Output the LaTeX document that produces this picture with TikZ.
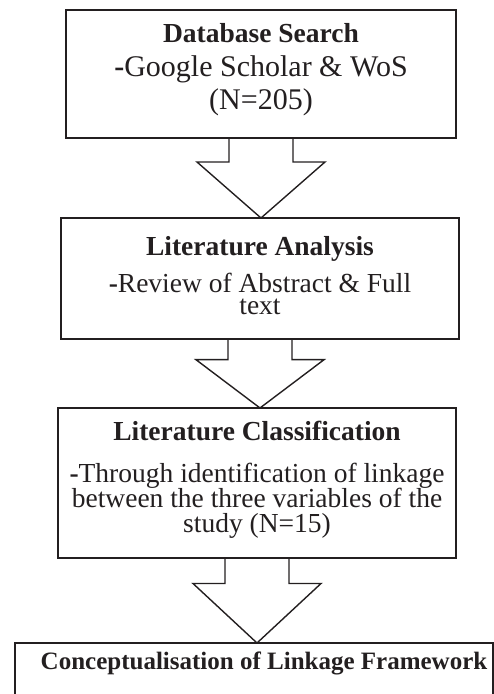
\documentclass[tikz,border=0pt]{standalone}
\usepackage{fontspec}
\setmainfont{Liberation Serif}
\usepackage{tikz}
\usetikzlibrary{calc,positioning}
\definecolor{inkgray}{HTML}{231F20}
\lineskiplimit=-100pt
\def\blockarrow(#1)(#2){%
	\coordinate (tip-#1) at (#1.south |- #2.north);
	\coordinate (neck-#1) at ($(#1.south)!0.3!(tip-#1)$);
	\draw[stage] ($(#1.south)+(-32,0)$) -- ($(neck-#1)+(-32,0)$) -- ($(neck-#1)+(-64,0)$) -- (tip-#1) -- ($(neck-#1)+(64,0)$) -- ($(neck-#1)+(32,0)$) -- ($(#1.south)+(32,0)$);}
\def\heading#1{{\bfseries\fontsize{27.5}{25}\selectfont #1}}
\tikzset{
	stage/.style={draw=inkgray, line width=1.4pt, inner sep=0pt, outer sep=0pt},
	caption/.style={inner sep=0pt, align=center, text=inkgray,
		font=\fontsize{27.5}{25}\selectfont}
}

\begin{document}
\begin{tikzpicture}[x=1pt, y=1pt]
		%%%%% START %%%%%
		\useasboundingbox (0, 0) rectangle (494, 694);
		\clip (0, 0) rectangle (494, 694);
		
		\node[stage, minimum width=390, minimum height=128] (b1) at (261, 620) {};
		\node[stage, minimum width=398, minimum height=121] (b2) at (260, 415.5) {};
		\node[stage, minimum width=398, minimum height=150] (b3) at (257, 211) {};
		\node[stage, minimum width=478, minimum height=100, anchor=north west] (b4) at (15, 51) {};
		
		\node[caption, font=\fontsize{30}{25}\selectfont, below=13pt of b1.north] (t1) {\heading{Database Search}\\[9pt]
			\textbf{-}Google Scholar \& WoS\\[8pt] (N=205)};
		\node[caption, below=18pt of b2.north] (t2) {\heading{Literature Analysis}\\[12pt]
			\textbf{-}Review of Abstract \& Full\\[-3pt] text};
		\node[caption, below=13pt of b3.north] (t3) {\heading{Literature Classification}\\[17pt]
			\textbf{-}Through identification of linkage\\ between the three variables of the\\ study (N=15)};
		\node[caption, below=9pt of b4.north, xshift=10pt] (t4) {{\bfseries\fontsize{25}{25}\selectfont Conceptualisation of Linkage Framework}};
		
		\blockarrow(b1)(b2)
		\blockarrow(b2)(b3)
		\blockarrow(b3)(b4)
		%%%%% END %%%%%
\end{tikzpicture}
\end{document}
